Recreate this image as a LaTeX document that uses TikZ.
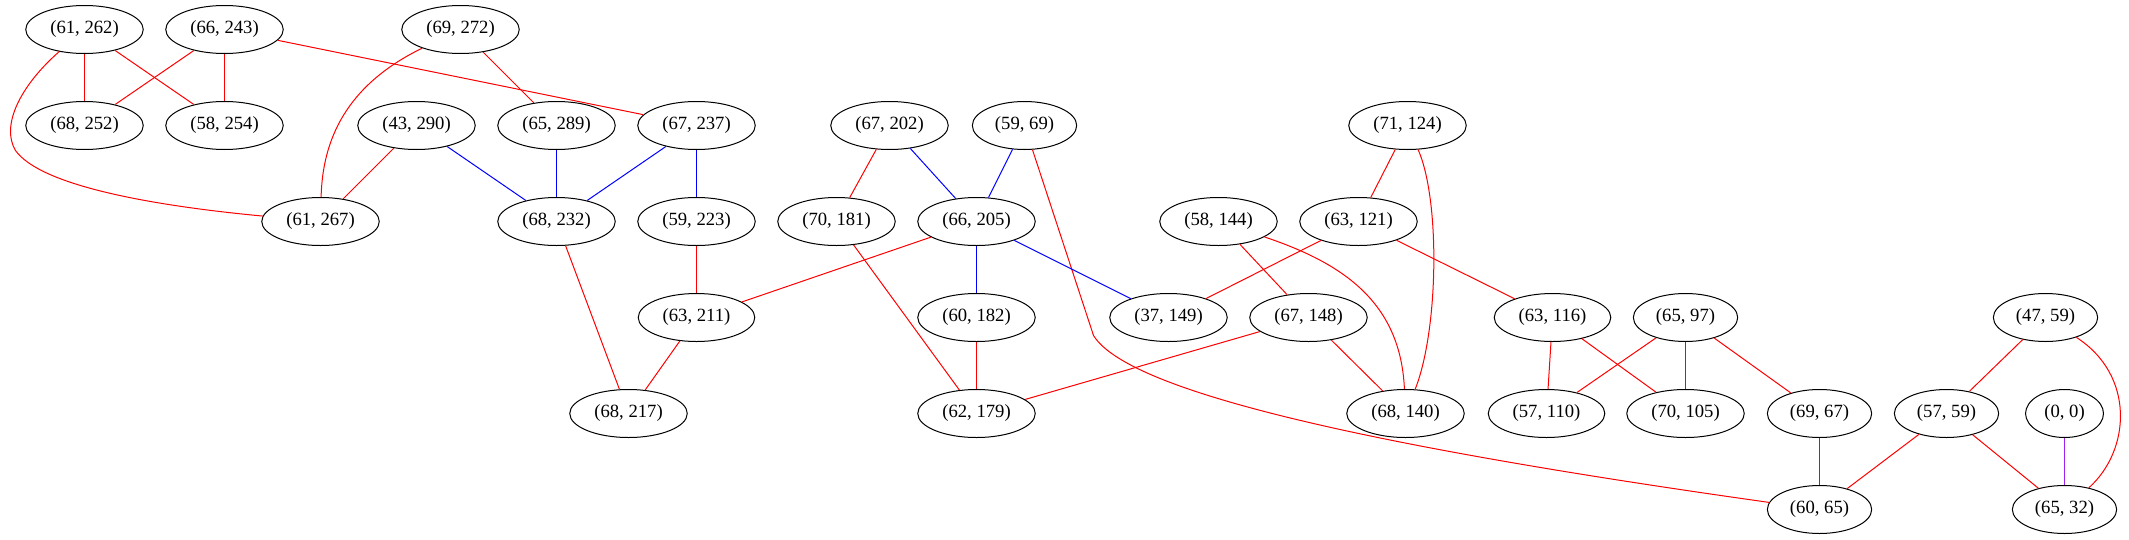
\documentclass[tikz,border=0pt]{standalone}
\usepackage{fontspec}
\setmainfont{Liberation Serif}
\usetikzlibrary{shapes.geometric}
\definecolor{gvpurple}{RGB}{160,32,240}
\begin{document}
\begin{tikzpicture}[x=0.75pt,y=-0.75pt,
  nd/.style={draw=black,ellipse,line width=0.75pt,inner xsep=5.5pt,inner ysep=2pt,
    minimum height=36pt,minimum width=54pt,font=\fontsize{14}{16}\selectfont},
  re/.style={draw=red,line width=0.75pt},
  be/.style={draw=blue,line width=0.75pt},
  pe/.style={draw=gvpurple,line width=0.75pt}]
\useasboundingbox (0,0) rectangle (2129,539);
\begin{scope}[shift={(0.5,0.5)}]
% row 1
\node[nd] (n61x262) at (84,29) {(61, 262)};
\node[nd] (n66x243) at (224,29) {(66, 243)};
\node[nd] (n69x272) at (460,29) {(69, 272)};
% row 2
\node[nd] (n68x252) at (84,125) {(68, 252)};
\node[nd] (n58x254) at (224,125) {(58, 254)};
\node[nd] (n43x290) at (416,125) {(43, 290)};
\node[nd] (n65x289) at (556,125) {(65, 289)};
\node[nd] (n67x237) at (696,125) {(67, 237)};
\node[nd] (n67x202) at (889,125) {(67, 202)};
\node[nd] (n59x69) at (1024,125) {(59, 69)};
\node[nd] (n71x124) at (1407,125) {(71, 124)};
% row 3
\node[nd] (n61x267) at (320,221) {(61, 267)};
\node[nd] (n68x232) at (556,221) {(68, 232)};
\node[nd] (n59x223) at (696,221) {(59, 223)};
\node[nd] (n70x181) at (836,221) {(70, 181)};
\node[nd] (n66x205) at (976,221) {(66, 205)};
\node[nd] (n58x144) at (1218,221) {(58, 144)};
\node[nd] (n63x121) at (1358,221) {(63, 121)};
% row 4
\node[nd] (n63x211) at (696,317) {(63, 211)};
\node[nd] (n60x182) at (976,317) {(60, 182)};
\node[nd] (n37x149) at (1168,317) {(37, 149)};
\node[nd] (n67x148) at (1308,317) {(67, 148)};
\node[nd] (n63x116) at (1552,317) {(63, 116)};
\node[nd] (n65x97) at (1685,317) {(65, 97)};
\node[nd] (n47x59) at (2045,317) {(47, 59)};
% row 5
\node[nd] (n68x217) at (628,413) {(68, 217)};
\node[nd] (n62x179) at (976,413) {(62, 179)};
\node[nd] (n68x140) at (1405,413) {(68, 140)};
\node[nd] (n57x110) at (1546,413) {(57, 110)};
\node[nd] (n70x105) at (1685,413) {(70, 105)};
\node[nd] (n69x67) at (1819,413) {(69, 67)};
\node[nd] (n57x59) at (1946,413) {(57, 59)};
\node[nd] (n0x0) at (2064,413) {(0, 0)};
% row 6
\node[nd] (n60x65) at (1819,509) {(60, 65)};
\node[nd] (n65x32) at (2064,509) {(65, 32)};
% edges
\draw[re] (n61x262) -- (n68x252);
\draw[re] (n61x262) -- (n58x254);
\draw[re] (n61x262) .. controls (20,85) and (0,125) .. (15,150) .. controls (40,185) and (150,205) .. (n61x267);
\draw[re] (n66x243) -- (n68x252);
\draw[re] (n66x243) -- (n58x254);
\draw[re] (n66x243) -- (n67x237);
\draw[re] (n69x272) .. controls (345,85) and (322,140) .. (n61x267);
\draw[re] (n69x272) -- (n65x289);
\draw[re] (n43x290) -- (n61x267);
\draw[be] (n43x290) -- (n68x232);
\draw[be] (n65x289) -- (n68x232);
\draw[be] (n67x237) -- (n68x232);
\draw[be] (n67x237) -- (n59x223);
\draw[re] (n59x223) -- (n63x211);
\draw[re] (n68x232) -- (n68x217);
\draw[re] (n63x211) -- (n68x217);
\draw[re] (n67x202) -- (n70x181);
\draw[be] (n67x202) -- (n66x205);
\draw[be] (n59x69) -- (n66x205);
\draw[re] (n59x69) -- (1093,335) .. controls (1130,395) and (1400,450) .. (n60x65);
\draw[re] (n66x205) -- (n63x211);
\draw[be] (n66x205) -- (n60x182);
\draw[be] (n66x205) -- (n37x149);
\draw[re] (n70x181) -- (n62x179);
\draw[re] (n60x182) -- (n62x179);
\draw[re] (n67x148) -- (n62x179);
\draw[re] (n58x144) -- (n67x148);
\draw[re] (n58x144) .. controls (1340,262) and (1400,300) .. (n68x140);
\draw[re] (n63x121) -- (n37x149);
\draw[re] (n63x121) -- (n63x116);
\draw[re] (n71x124) -- (n63x121);
\draw[re] (n71x124) .. controls (1440,200) and (1438,330) .. (n68x140);
\draw[re] (n67x148) -- (n68x140);
\draw[re] (n63x116) -- (n57x110);
\draw[re] (n63x116) -- (n70x105);
\draw[re] (n65x97) -- (n57x110);
\draw[re] (n65x97) -- (n70x105);
\draw[re] (n65x97) -- (n69x67);
\draw[re] (n69x67) -- (n60x65);
\draw[re] (n47x59) -- (n57x59);
\draw[re] (n47x59) .. controls (2135,375) and (2130,450) .. (n65x32);
\draw[re] (n57x59) -- (n60x65);
\draw[re] (n57x59) -- (n65x32);
\draw[pe] (n0x0) -- (n65x32);
\end{scope}
\end{tikzpicture}
\end{document}
